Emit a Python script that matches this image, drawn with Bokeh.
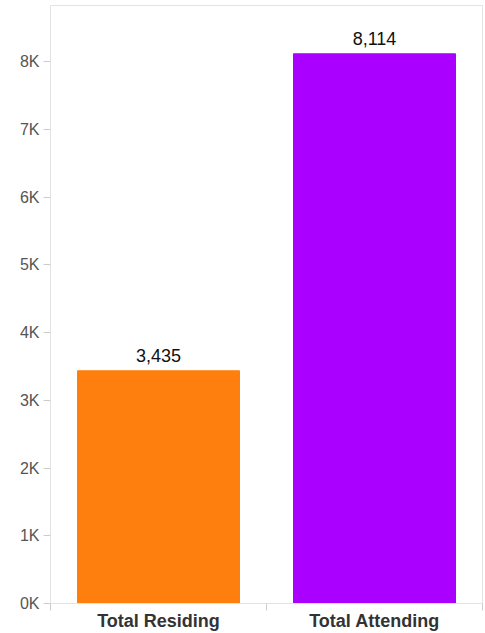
from bokeh.plotting import figure
from bokeh.models import ColumnDataSource, FixedTicker, Range1d
from bokeh.embed import file_html
from bokeh.resources import INLINE
from bokeh.core.properties import value

categories = ["Total Residing", "Total Attending"]
counts = [3435, 8114]
colors = ["#FF7F0E", "#AA00FF"]
y_ticks = [0, 1000, 2000, 3000, 4000, 5000, 6000, 7000, 8000]
y_tick_labels = ["0K", "1K", "2K", "3K", "4K", "5K", "6K", "7K", "8K"]

xpos = [i + 0.5 for i in range(len(categories))]
source = ColumnDataSource(dict(
    x=xpos, top=counts, color=colors,
    label=["{:,}".format(v) for v in counts],
))

FONT = "Liberation Sans"
GRID = "#e3e3e3"

p = figure(width=484, height=633, output_backend="svg", toolbar_location=None,
           x_range=Range1d(0, len(categories)), y_range=Range1d(0, 8827),
           min_border_left=50, min_border_right=2, min_border_top=5,
           min_border_bottom=30)

p.vbar(x="x", top="top", width=0.75, bottom=0, color="color", source=source)
p.text(x="x", y="top", text="label", source=source, text_align="center",
       text_baseline="alphabetic", y_offset=-15, text_font=value(FONT),
       text_font_size="18px", text_color="#111111")

p.xgrid.visible = False
p.ygrid.visible = False
p.outline_line_color = GRID
p.background_fill_color = "white"
p.border_fill_color = "white"

# y axis
ya = p.yaxis[0]
ya.ticker = FixedTicker(ticks=y_ticks, minor_ticks=[])
ya.major_label_overrides = {t: l for t, l in zip(y_ticks, y_tick_labels)}
ya.axis_line_color = GRID
ya.major_tick_line_color = "#cccccc"
ya.major_tick_in = 0
ya.major_tick_out = 7
ya.minor_tick_line_color = None
ya.major_label_standoff = 4
ya.major_label_text_font = FONT
ya.major_label_text_font_size = "16px"
ya.major_label_text_color = "#555555"

# x axis
xa = p.xaxis[0]
xa.ticker = FixedTicker(ticks=xpos, minor_ticks=list(range(len(categories) + 1)))
xa.major_label_overrides = {x: c for x, c in zip(xpos, categories)}
xa.axis_line_color = GRID
xa.major_tick_line_color = None
xa.major_tick_in = 0
xa.major_tick_out = 0
xa.minor_tick_line_color = "#cccccc"
xa.minor_tick_in = 0
xa.minor_tick_out = 7
xa.major_label_standoff = 0
xa.major_label_text_font = FONT
xa.major_label_text_font_size = "18px"
xa.major_label_text_font_style = "bold"
xa.major_label_text_color = "#333333"

open("out.html", "w").write(file_html(p, INLINE))
